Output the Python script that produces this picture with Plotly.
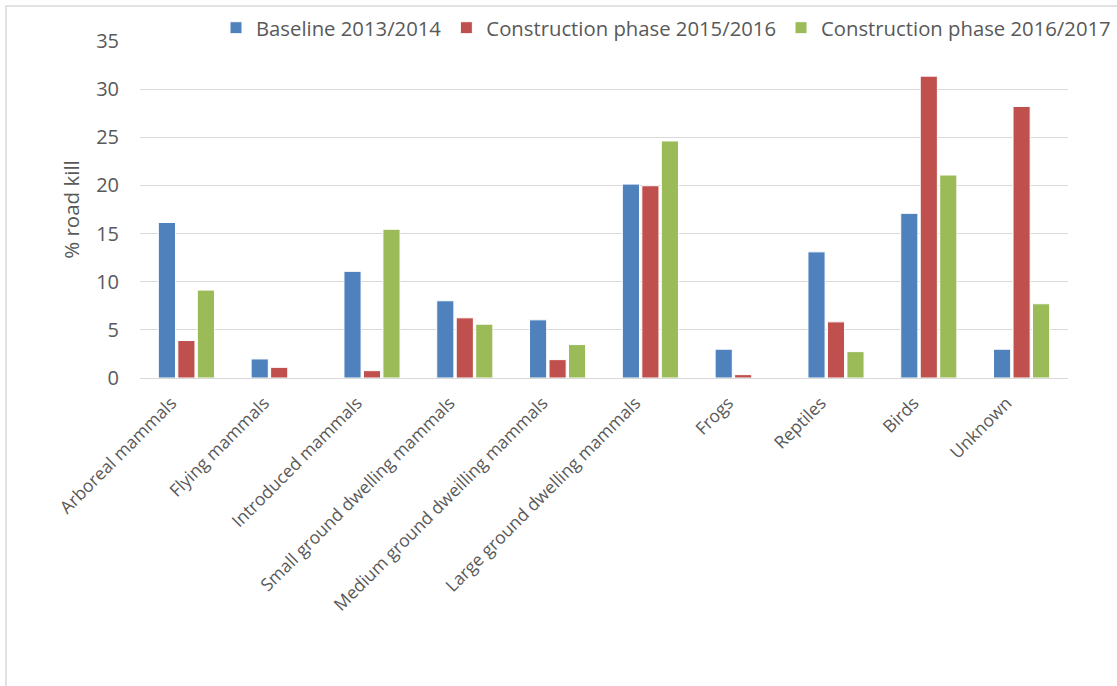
import plotly.graph_objects as go

categories = ["Arboreal mammals", "Flying mammals", "Introduced mammals",
              "Small ground dwelling mammals", "Medium ground dweilling mammals",
              "Large ground dwelling mammals", "Frogs", "Reptiles", "Birds", "Unknown"]
baseline = [16.15, 1.98, 11.08, 8.02, 6.04, 20.14, 2.99, 13.1, 17.1, 2.99]
phase_1516 = [3.89, 1.11, 0.76, 6.25, 1.91, 19.97, 0.35, 5.83, 31.35, 28.2]
phase_1617 = [9.13, 0, 15.45, 5.59, 3.47, 24.62, 0, 2.74, 21.08, 7.71]
series_names = ["Baseline 2013/2014", "Construction phase 2015/2016", "Construction phase 2016/2017"]
colors = ["#4F81BD", "#C0504D", "#9BBB59"]
y_ticks = [0, 5, 10, 15, 20, 25, 30, 35]

FONT = "Open Sans"
TXT = "#595959"

fig = go.Figure()
for name, vals, col in zip(series_names, [baseline, phase_1516, phase_1617], colors):
    fig.add_trace(go.Bar(x=categories, y=vals, name=name,
                         marker=dict(color=col, line=dict(color="white", width=1))))

L, R, T, B = 140, 49, 41, 308
W, H = 1117, 686
pw = W - L - R
ph = H - T - B

fig.update_layout(
    width=W, height=H,
    margin=dict(l=L, r=R, t=T, b=B, autoexpand=False),
    paper_bgcolor="white", plot_bgcolor="white",
    barmode="group", bargap=0.37, bargroupgap=0.12,
    font=dict(family=FONT, color=TXT),
    legend=dict(orientation="h", x=(216 - L) / pw, xanchor="left",
                y=(H - B - 8) / ph, yanchor="top",
                font=dict(size=20.3, color=TXT, family=FONT),
                itemwidth=30, tracegroupgap=0, bgcolor="rgba(0,0,0,0)"),
    xaxis=dict(tickangle=-45, tickfont=dict(size=17.5, color=TXT, family=FONT),
               showline=True, linecolor="#d9d9d9", linewidth=1, ticks="",
               ticklabelstandoff=7, ticklabelshift=-15,
               showgrid=False),
    yaxis=dict(range=[0, 35], tickvals=y_ticks, tickfont=dict(size=20, color=TXT, family=FONT),
               showgrid=True, gridcolor="#d9d9d9", gridwidth=1, zeroline=False,
               ticks="", ticklabelstandoff=20,
               title=dict(text="% road kill", font=dict(size=20.5, color=TXT, family=FONT),
                          standoff=10)),
    shapes=[dict(type="rect", xref="paper", yref="paper",
                 x0=(6 - L) / pw, x1=(W + 20 - L) / pw,
                 y0=-(H + 20 - (H - B)) / ph, y1=(H - B - 6) / ph,
                 line=dict(color="#d9d9d9", width=1.5), fillcolor="rgba(0,0,0,0)", layer="below")],
)

fig.write_html("out.html", config={"displayModeBar": False},
               post_script="document.body.style.margin='0';document.body.style.overflow='hidden';")
